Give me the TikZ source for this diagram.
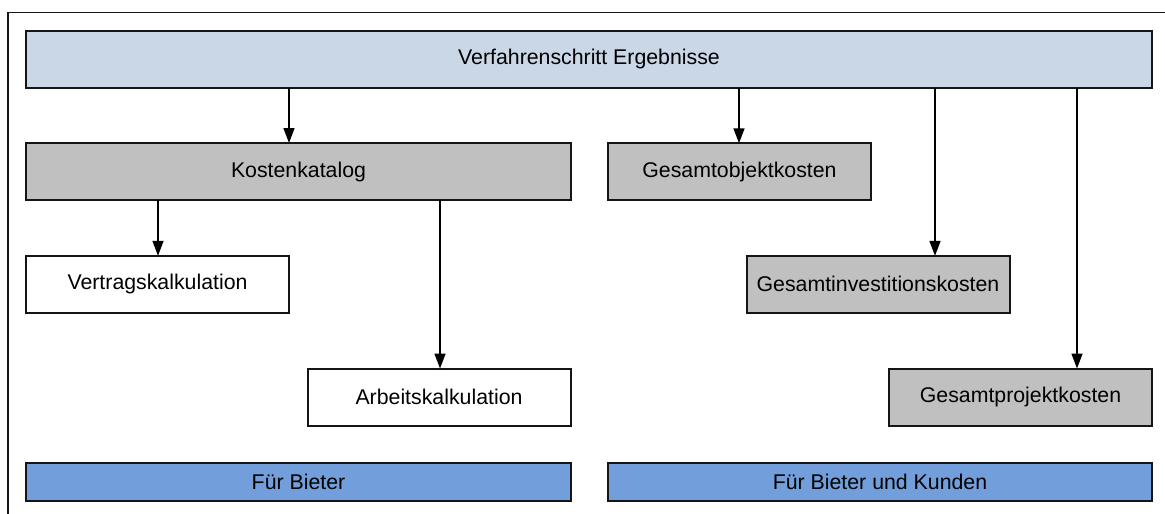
\documentclass[tikz,border=0pt]{standalone}
\usepackage{fontspec}
\setmainfont{Liberation Sans}
\usetikzlibrary{arrows.meta}
\definecolor{headfill}{HTML}{C9D7E6}
\definecolor{grayfill}{HTML}{C0C0C0}
\definecolor{bluefill}{HTML}{729FDB}
\definecolor{edge}{HTML}{151515}
\begin{document}
\begin{tikzpicture}[x=1pt,y=-1pt,
  box/.style={draw=edge,line width=2pt,inner sep=0pt,outer sep=0pt,
    font=\fontsize{21.3}{25}\selectfont,text=black},
  headbox/.style={box,fill=headfill,minimum height=56.5pt},
  graybox/.style={box,fill=grayfill,minimum height=57pt,minimum width=263pt},
  whitebox/.style={box,fill=white,minimum height=57pt,minimum width=263pt},
  bluebox/.style={box,fill=bluefill,minimum height=38pt},
  arr/.style={line width=1.6pt,-{Triangle[length=15pt,width=11pt]}}]
\useasboundingbox (0,0) rectangle (1165,514);
% outer frame, cut by the page edges
\begin{scope}
  \clip (0,0) rectangle (1165,514);
  \draw[line width=1.5pt,edge] (8,12.5) rectangle (1200,560);
\end{scope}
% boxes
\node[headbox,minimum width=1126pt] (top) at (589,59.25) {Verfahrenschritt Ergebnisse};
\node[graybox,minimum width=545pt] (kk) at (298.5,171.5) {Kostenkatalog};
\node[graybox] (gok) at (739.5,171.75) {Gesamtobjektkosten};
\node[whitebox] (vk) at (157.5,284.3) {Vertragskalkulation};
\node[graybox] (gik) at (878,284.3) {Gesamtinvestitionskosten};
\node[whitebox] (ak) at (439,397) {Arbeitskalkulation};
\node[graybox] (gpk) at (1020.5,397) {Gesamtprojektkosten};
\node[bluebox,minimum width=545pt] (fb) at (298.5,481.8) {Für Bieter};
\node[bluebox,minimum width=544pt] (fbk) at (880,481.8) {Für Bieter und Kunden};
% connectors
\draw[arr] (top.south -| 289,0) -- (kk.north -| 289,0);
\draw[arr] (top.south -| 739,0) -- (gok.north -| 739,0);
\draw[arr] (top.south -| 935,0) -- (gik.north -| 935,0);
\draw[arr] (top.south -| 1077,0) -- (gpk.north -| 1077,0);
\draw[arr] (kk.south -| 158,0) -- (vk.north -| 158,0);
\draw[arr] (kk.south -| 440,0) -- (ak.north -| 440,0);
\end{tikzpicture}
\end{document}
